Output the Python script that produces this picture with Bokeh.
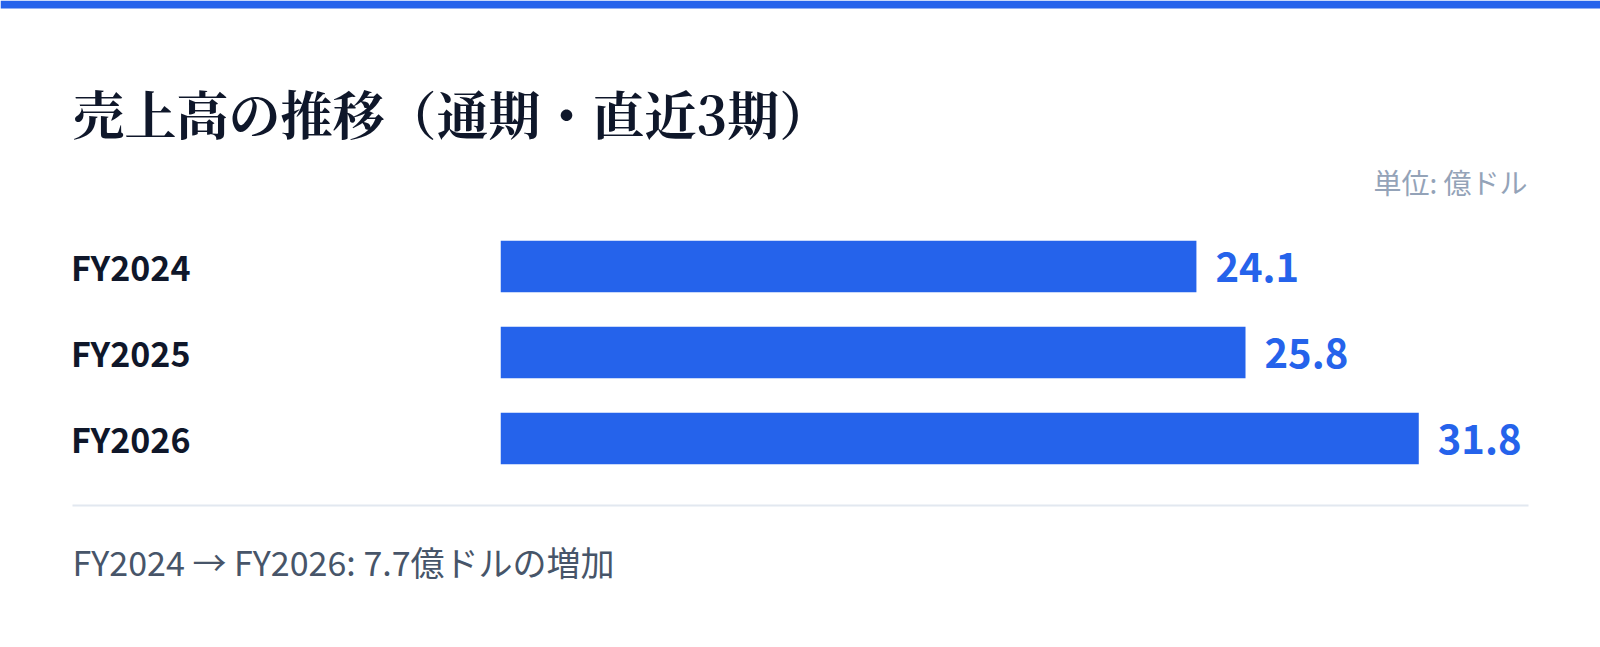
from bokeh.plotting import figure
from bokeh.layouts import column
from bokeh.models import ColumnDataSource, LabelSet, Label, BoxAnnotation, Range1d, FactorRange
from bokeh.embed import file_html
from bokeh.resources import INLINE
from bokeh.core.properties import value

# ---- data ----
years = ["FY2024", "FY2025", "FY2026"]
sales = [24.1, 25.8, 31.8]
sales_text = ["24.1", "25.8", "31.8"]
title_text = "売上高の推移（通期・直近3期）"
unit_text = "単位: 億ドル"
footer_text = "FY2024 → FY2026: 7.7億ドルの増加"

# ---- layout (pixels) ----
W = 1600
HEAD_H, MAIN_H, FOOT_H = 223, 258, 166

BLUE = "#2563eb"
DARK = "#0f172a"
SANS = "Noto Sans CJK JP"


def no_align(f):
    if "frame_align" in f.properties():
        f.frame_align = False
    return f


def blank(height):
    f = figure(width=W, height=height, output_backend="svg", toolbar_location=None,
               x_axis_location=None, y_axis_location=None,
               x_range=Range1d(0, 1), y_range=Range1d(0, 1),
               min_border=0, min_border_left=0, min_border_right=0,
               min_border_top=0, min_border_bottom=0)
    f.outline_line_color = None
    f.grid.visible = False
    f.background_fill_color = "white"
    f.border_fill_color = "white"
    return no_align(f)


# ---- header ----
head = blank(HEAD_H)
head.add_layout(BoxAnnotation(left=0, right=W, top=HEAD_H, bottom=HEAD_H - 8,
                              left_units="screen", right_units="screen",
                              top_units="screen", bottom_units="screen",
                              fill_color=BLUE, fill_alpha=1, line_color=None))
head.add_layout(Label(x=72, y=HEAD_H - 112, x_units="screen", y_units="screen",
                      text=title_text, text_align="left", text_baseline="middle",
                      text_font="Noto Serif CJK JP, serif", text_font_style="bold",
                      text_font_size="52px", text_color=DARK))
head.add_layout(Label(x=1527, y=HEAD_H - 181.5, x_units="screen", y_units="screen",
                      text=unit_text, text_align="right", text_baseline="middle",
                      text_font=SANS, text_font_size="28px", text_color="#94a3b8"))

# ---- main bar chart ----
src = ColumnDataSource(dict(year=years, sales=sales, label=sales_text))

p = figure(width=W, height=MAIN_H, output_backend="svg", toolbar_location=None,
           y_range=FactorRange(factors=list(reversed(years)), range_padding=0),
           x_range=Range1d(0, 35.6), x_axis_location=None,
           min_border_left=500, min_border_right=72,
           min_border_top=0, min_border_bottom=0)
p.outline_line_color = None
p.grid.visible = False
p.background_fill_color = "white"
p.border_fill_color = "white"
no_align(p)

p.hbar(y="year", left=0, right="sales", height=0.6, source=src,
       fill_color=BLUE, line_color=None)

ya = p.yaxis[0]
ya.axis_line_color = None
ya.major_tick_line_color = None
ya.minor_tick_line_color = None
ya.major_tick_out = 0
ya.major_tick_in = 0
ya.major_label_standoff = 310
ya.major_label_text_font = SANS
ya.major_label_text_font_style = "bold"
ya.major_label_text_font_size = "34px"
ya.major_label_text_color = DARK

p.add_layout(LabelSet(x="sales", y="year", text="label", source=src,
                      x_offset=19, text_align="left", text_baseline="middle",
                      text_font=value(SANS), text_font_style="bold",
                      text_font_size="40px", text_color=BLUE))

# ---- footer ----
foot = blank(FOOT_H)
foot.add_layout(BoxAnnotation(left=72, right=1528, top=FOOT_H - 23, bottom=FOOT_H - 25,
                              left_units="screen", right_units="screen",
                              top_units="screen", bottom_units="screen",
                              fill_color="#e2e8f0", fill_alpha=1, line_color=None))
foot.add_layout(Label(x=72, y=FOOT_H - 79.5, x_units="screen", y_units="screen",
                      text=footer_text, text_align="left", text_baseline="middle",
                      text_font=SANS, text_font_size="34px", text_color="#475569"))

layout = column(head, p, foot, spacing=0)
open("out.html", "w").write(file_html(layout, INLINE))
